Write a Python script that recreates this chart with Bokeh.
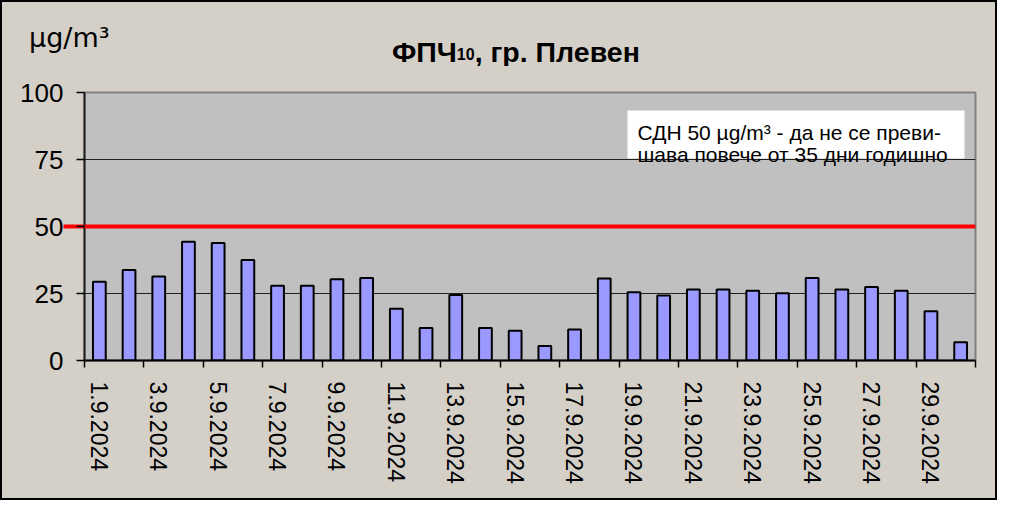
from bokeh.plotting import figure
from bokeh.models import FixedTicker, Range1d, BoxAnnotation, Label, LinearAxis, Div
from bokeh.layouts import column
from bokeh.embed import file_html
from bokeh.resources import INLINE

# ---- data ----
dates = ["1.9.2024", "2.9.2024", "3.9.2024", "4.9.2024", "5.9.2024", "6.9.2024",
         "7.9.2024", "8.9.2024", "9.9.2024", "10.9.2024", "11.9.2024", "12.9.2024",
         "13.9.2024", "14.9.2024", "15.9.2024", "16.9.2024", "17.9.2024", "18.9.2024",
         "19.9.2024", "20.9.2024", "21.9.2024", "22.9.2024", "23.9.2024", "24.9.2024",
         "25.9.2024", "26.9.2024", "27.9.2024", "28.9.2024", "29.9.2024", "30.9.2024"]
pm10 = [29.4, 33.8, 31.3, 44.3, 43.8, 37.5, 27.9, 27.9, 30.3, 30.8,
        19.3, 12.1, 24.4, 12.1, 11.1, 5.4, 11.6, 30.6, 25.5, 24.3,
        26.5, 26.5, 26.0, 25.1, 30.8, 26.5, 27.4, 26.0, 18.4, 6.8]
y_ticks = [0, 25, 50, 75, 100]
limit_value = 50
title_main = "ФПЧ"
title_sub = "10"
title_rest = ", гр. Плевен"
unit_label = "µg/m³"
note_lines = ["СДН 50 µg/m³ -  да не се преви-", "шава повече от 35 дни годишно"]

# ---- layout (pixel positions in the picture) ----
W, H_TOTAL = 997, 500
DIV_H = 70
H = H_TOTAL - DIV_H
ML, MT = 84, 92 - DIV_H
FW, FH = 891, 268
MR = W - ML - FW
MB = H - MT - FH
N = len(dates)
FONT = "Liberation Sans"
BG = "#D4D0C8"


def fx(px):  # picture x -> frame-relative screen x
    return px - ML


def fy(py):  # picture y -> frame-relative screen y (from frame bottom)
    return DIV_H + MT + FH - py


def dx(px):  # picture x -> data x
    return (px - ML) * N / FW


def dy(py):  # picture y -> data y
    return 100 - (py - DIV_H - MT) * 100 / FH


p = figure(width=W, height=H, output_backend="svg", toolbar_location=None,
           x_range=Range1d(0, N), y_range=Range1d(0, 100),
           frame_width=FW, frame_height=FH,
           min_border_left=ML, min_border_right=MR,
           min_border_top=MT, min_border_bottom=MB, margin=0)
p.background_fill_color = "#C0C0C0"
p.border_fill_color = BG
p.outline_line_color = "#808080"
p.outline_line_width = 2

centers = [i + 0.5 for i in range(N)]
p.vbar(x=centers, top=pm10, width=0.43, fill_color="#9999FF",
       line_color="black", line_width=2)

# grid
p.xgrid.visible = False
p.ygrid.ticker = FixedTicker(ticks=y_ticks)
p.ygrid.grid_line_color = "#202020"
p.ygrid.grid_line_width = 1

# y axis
yax = p.yaxis[0]
yax.ticker = FixedTicker(ticks=y_ticks)
yax.axis_line_color = "#202020"
yax.axis_line_width = 2
yax.major_tick_in = 0
yax.major_tick_out = 8
yax.major_tick_line_width = 1.5
yax.minor_tick_line_color = None
yax.major_label_text_font = FONT
yax.major_label_text_font_size = "26px"
yax.major_label_text_color = "black"
yax.major_label_standoff = 13

# short red stub of the limit line, left of the axis (zero-width inner axis)
stub = LinearAxis(ticker=FixedTicker(ticks=[limit_value]),
                  axis_line_color=None, minor_tick_line_color=None,
                  major_tick_line_color="#FF0000", major_tick_line_width=4,
                  major_tick_in=-21, major_tick_out=0,
                  major_label_standoff=0, major_label_text_font_size="0px",
                  major_label_overrides={limit_value: ""})
p.left = [stub, yax]

# x axis: labels on odd days, tick marks at every second category boundary
xax = p.xaxis[0]
lab_pos = centers[::2]
xax.ticker = FixedTicker(ticks=lab_pos, minor_ticks=list(range(0, N + 1, 2)))
xax.major_label_overrides = {c: d for c, d in zip(centers, dates)}
xax.major_label_orientation = "vertical"
xax.major_tick_line_color = None
xax.major_tick_in = 0
xax.major_tick_out = 0
xax.minor_tick_in = 0
xax.minor_tick_out = 7
xax.minor_tick_line_width = 1.5
xax.minor_tick_line_color = "black"
xax.axis_line_color = "black"
xax.axis_line_width = 2
xax.major_label_text_font = FONT
xax.major_label_text_font_size = "23px"
xax.major_label_text_color = "black"
xax.major_label_standoff = 14

# limit line inside the frame
p.add_layout(BoxAnnotation(left=0, right=N, bottom=limit_value - 0.75,
                           top=limit_value + 0.75, fill_color="#FF0000",
                           fill_alpha=1, line_color=None, level="annotation"))

# note box
p.add_layout(BoxAnnotation(left=dx(627), right=dx(964), top=dy(110), bottom=dy(158),
                           fill_color="white", fill_alpha=1, line_color=None,
                           level="annotation"))
for line, by in zip(note_lines, [131.5, 153.5]):
    p.add_layout(Label(x=fx(637), y=fy(by), x_units="screen", y_units="screen",
                       text=line, text_font=FONT,
                       text_font_size="21px", text_color="black",
                       text_baseline="alphabetic", text_align="left"))

# header: unit and title (HTML text), plus the chart's outer frame
header_html = (
    f'<div style="position:relative;width:{W}px;height:{DIV_H}px;">'
    f'<span style="position:absolute;left:29px;top:24px;font-family:\'DejaVu Sans\';'
    f'font-size:27px;line-height:27px;white-space:nowrap;color:black;">{unit_label}</span>'
    f'<span style="position:absolute;left:392px;top:38px;font-family:\'Liberation Sans\';'
    f'font-weight:bold;font-size:28.5px;line-height:28px;white-space:nowrap;color:black;">'
    f'{title_main}<span style="font-size:16px;vertical-align:2px;">{title_sub}</span>'
    f'{title_rest}</span>'
    f'<div style="position:absolute;left:2px;top:{DIV_H - 4}px;width:{W - 4}px;height:8px;'
    f'background-color:{BG};pointer-events:none;z-index:9;"></div>'
    f'<div style="position:absolute;left:0;top:0;width:{W}px;height:{H_TOTAL}px;'
    f'border:2px solid black;box-sizing:border-box;pointer-events:none;z-index:10;"></div>'
    f'</div>'
)
header = Div(text=header_html, width=W, height=DIV_H, margin=0,
             styles={"background-color": BG, "overflow": "visible", "z-index": "10"})

layout = column(header, p, spacing=0, margin=0, styles={"background-color": BG})
open("out.html", "w").write(file_html(layout, INLINE))
